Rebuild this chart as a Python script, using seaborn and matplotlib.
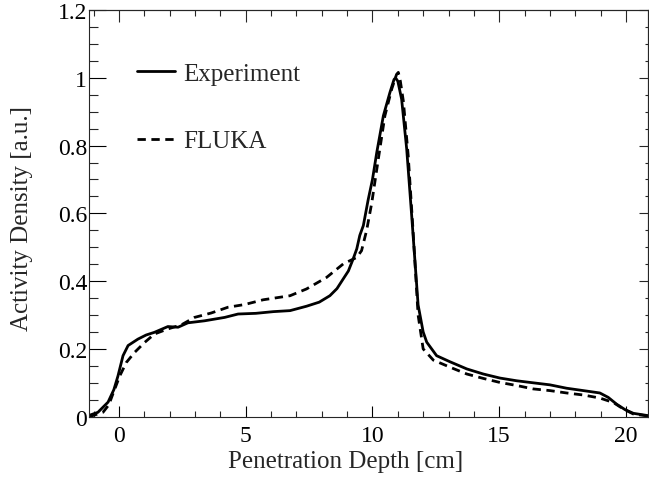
import numpy as np
import pandas as pd
import matplotlib
matplotlib.use("Agg")
import matplotlib.pyplot as plt
from matplotlib.ticker import MultipleLocator, FixedLocator
import seaborn as sns

# =========================
# Data
# =========================
exp_depth = [-1.17, -0.83, -0.43, -0.2, -0.04, 0.16, 0.36, 0.75, 1.07, 1.4,
             1.93, 2.33, 2.72, 3.38, 4.17, 4.7, 5.4, 6.09, 6.75, 7.4,
             7.9, 8.32, 8.6, 8.85, 9.05, 9.24, 9.38, 9.5, 9.64, 9.83,
             10.0, 10.17, 10.43, 10.69, 10.85, 10.91, 11.0, 11.15, 11.35, 11.55,
             11.8, 12.0, 12.14, 12.53, 13.06, 13.72, 14.37, 15.03, 15.69, 16.34,
             17.0, 17.66, 18.32, 18.97, 19.3, 19.63, 19.96, 20.29, 20.88]
exp_activity = [0.004, 0.013, 0.043, 0.08, 0.12, 0.18, 0.21, 0.229, 0.241, 0.249,
                0.266, 0.264, 0.277, 0.283, 0.293, 0.303, 0.305, 0.31, 0.313, 0.326,
                0.338, 0.357, 0.378, 0.407, 0.43, 0.466, 0.495, 0.535, 0.564, 0.64,
                0.70, 0.78, 0.888, 0.957, 0.995, 1.0, 0.99, 0.937, 0.79, 0.59,
                0.33, 0.25, 0.22, 0.18, 0.162, 0.141, 0.126, 0.114, 0.106, 0.10,
                0.094, 0.084, 0.077, 0.07, 0.057, 0.037, 0.021, 0.01, 0.003]

fluka_depth = [-1.17, -0.63, -0.4, -0.24, 0.03, 0.29, 0.62, 1.01, 1.4, 1.93,
               2.46, 2.98, 3.64, 4.3, 4.96, 5.69, 6.75, 7.4, 8.19, 8.85,
               9.38, 9.57, 9.77, 9.97, 10.23, 10.49, 10.76, 10.95, 11.02, 11.1,
               11.22, 11.41, 11.6, 11.8, 12.0, 12.4, 13.06, 13.72, 14.37, 15.03,
               15.69, 16.34, 17.0, 17.66, 18.32, 18.97, 19.5, 19.89, 20.29, 20.88]
fluka_activity = [0.0, 0.013, 0.035, 0.067, 0.12, 0.16, 0.19, 0.219, 0.244, 0.259,
                  0.271, 0.293, 0.306, 0.323, 0.331, 0.345, 0.357, 0.377, 0.411, 0.451,
                  0.47, 0.49, 0.55, 0.63, 0.76, 0.888, 0.967, 1.01, 1.016, 0.99,
                  0.93, 0.77, 0.55, 0.30, 0.20, 0.167, 0.146, 0.126, 0.113, 0.101,
                  0.092, 0.082, 0.077, 0.07, 0.064, 0.055, 0.042, 0.023, 0.008, 0.002]

x_major = [0, 5, 10, 15, 20]
y_major = [0, 0.2, 0.4, 0.6, 0.8, 1.0, 1.2]
y_major_labels = ["0", "0.2", "0.4", "0.6", "0.8", "1", "1.2"]

# =========================
# Style
# =========================
sns.set_theme(style="ticks")
plt.rcParams["font.family"] = ["Liberation Serif", "DejaVu Serif"]
plt.rcParams["axes.linewidth"] = 0.8

df_exp = pd.DataFrame({"depth": exp_depth, "activity": exp_activity})
df_fluka = pd.DataFrame({"depth": fluka_depth, "activity": fluka_activity})

fig = plt.figure(figsize=(6.49, 4.81), dpi=100)
ax = fig.add_axes([0.1376, 0.1316, 0.9989 - 0.1376, 0.9771 - 0.1316])

sns.lineplot(data=df_exp, x="depth", y="activity", ax=ax, color="black",
             linewidth=2.0, label="Experiment", sort=True, estimator=None)
sns.lineplot(data=df_fluka, x="depth", y="activity", ax=ax, color="black",
             linewidth=2.0, dashes=False, label="FLUKA", sort=True, estimator=None)
ax.lines[1].set_dashes((3, 2))

ax.set_xlim(-1.17, 20.88)
ax.set_ylim(0, 1.2)

ax.xaxis.set_major_locator(FixedLocator(x_major))
ax.xaxis.set_minor_locator(MultipleLocator(1))
ax.yaxis.set_major_locator(FixedLocator(y_major))
ax.set_yticklabels(y_major_labels)
ax.yaxis.set_minor_locator(MultipleLocator(0.05))

ax.tick_params(axis="x", which="major", direction="in", length=8, width=0.8,
               labelsize=17, pad=6, colors="black")
ax.tick_params(axis="x", which="minor", direction="in", length=4, width=0.8)
ax.tick_params(axis="y", which="major", direction="in", length=12, width=0.8,
               labelsize=17, pad=1.5, colors="black")
ax.tick_params(axis="y", which="minor", direction="in", length=6.5, width=0.8)

# mirrored ticks on top / right
top = ax.secondary_xaxis("top")
top.xaxis.set_major_locator(FixedLocator(x_major))
top.xaxis.set_minor_locator(MultipleLocator(1))
top.tick_params(which="major", direction="in", length=8.5, width=0.8, labeltop=False)
top.tick_params(which="minor", direction="in", length=4.3, width=0.8)
right = ax.secondary_yaxis("right")
right.yaxis.set_major_locator(FixedLocator(y_major))
right.yaxis.set_minor_locator(MultipleLocator(0.05))
right.tick_params(which="major", direction="in", length=6.5, width=0.8, labelright=False)
right.tick_params(which="minor", direction="in", length=2, width=0.8)

ax.set_xlabel("Penetration Depth [cm]", fontsize=18, va="center")
ax.set_ylabel("Activity Density [a.u.]", fontsize=18, va="center")
ax.xaxis.set_label_coords(0.458, -0.109)
ax.yaxis.set_label_coords(-0.12, 0.489)

ax.legend(loc="upper left", bbox_to_anchor=(0.0853, 0.871), frameon=False,
          fontsize=18, borderpad=0, borderaxespad=0, handlelength=1.52,
          handletextpad=0.32, labelspacing=1.8)

fig.savefig("out.png", dpi=100)
